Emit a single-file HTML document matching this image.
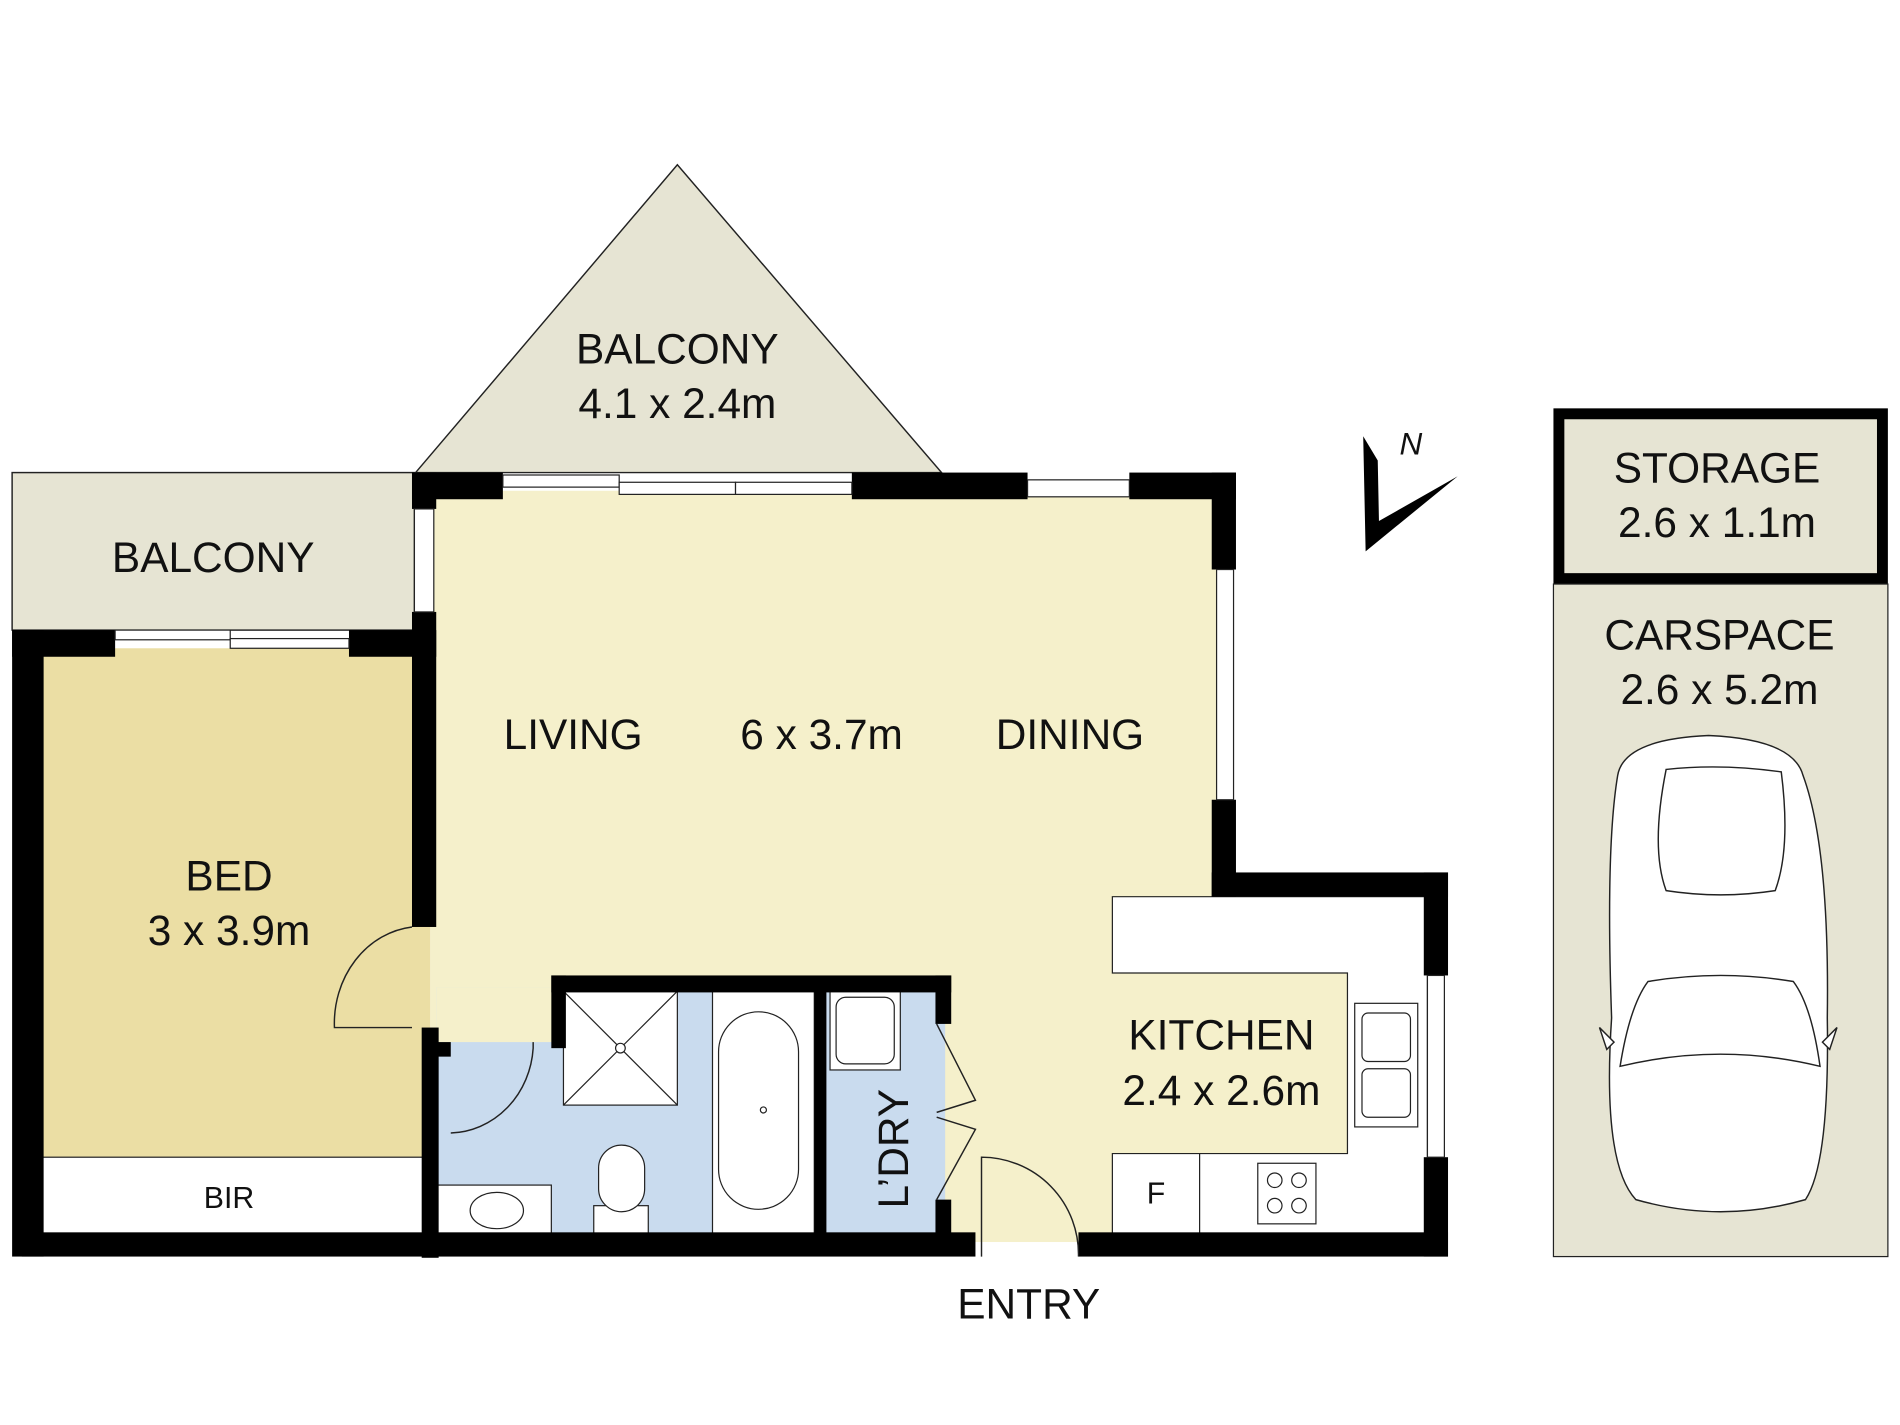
<!DOCTYPE html>
<html><head><meta charset="utf-8"><style>
html,body{margin:0;padding:0;background:#fff;}
svg{display:block;}
text{font-family:"Liberation Sans",sans-serif;fill:#111;}
</style></head><body>
<svg width="1900" height="1425" viewBox="0 0 1568 1176" xmlns="http://www.w3.org/2000/svg">
<rect width="1568" height="1176" fill="#fff"/>
<!-- balconies -->
<polygon points="343,390 559,136 777,390" fill="#e6e4d3" stroke="#222" stroke-width="1.2"/>
<rect x="10" y="390" width="332" height="130" fill="#e6e4d3" stroke="#222" stroke-width="1.2"/>
<!-- floors -->
<rect x="355" y="405" width="650" height="455" fill="#f5f0cb"/>
<rect x="760" y="730" width="420" height="295" fill="#f5f0cb"/>
<rect x="30" y="535" width="325" height="490" fill="#ebdea4"/>
<rect x="30" y="955" width="320" height="65" fill="#fff" stroke="#222" stroke-width="1"/>
<rect x="360" y="815" width="420" height="205" fill="#c9dbee"/>
<rect x="360" y="815" width="100" height="45" fill="#f5f0cb"/>
<!-- kitchen counters -->
<path d="M918,740 H1178 V1020 H918 V952 H1112 V803 H918 Z" fill="#fff" stroke="#222" stroke-width="1"/>
<rect x="1118" y="828" width="52" height="102" fill="#fff" stroke="#222"/>
<rect x="1124" y="836" width="40" height="40" rx="5" fill="none" stroke="#222"/>
<rect x="1124" y="882" width="40" height="40" rx="5" fill="none" stroke="#222"/>
<line x1="990" y1="952" x2="990" y2="1020" stroke="#222"/>
<rect x="1038" y="960" width="48" height="50" fill="none" stroke="#222"/>
<circle cx="1052" cy="974" r="6" fill="none" stroke="#222"/><circle cx="1072" cy="974" r="6" fill="none" stroke="#222"/>
<circle cx="1052" cy="995" r="6" fill="none" stroke="#222"/><circle cx="1072" cy="995" r="6" fill="none" stroke="#222"/>
<!-- bath fixtures -->
<rect x="465" y="818" width="94" height="94" fill="#fff" stroke="#222"/>
<line x1="465" y1="818" x2="559" y2="912" stroke="#222"/><line x1="559" y1="818" x2="465" y2="912" stroke="#222"/>
<circle cx="512" cy="865" r="4" fill="#fff" stroke="#222"/>
<rect x="588" y="818" width="84" height="200" fill="#fff" stroke="#222"/>
<rect x="593" y="835" width="66" height="163" rx="33" fill="#fff" stroke="#222"/>
<circle cx="630" cy="916" r="2.5" fill="none" stroke="#222"/>
<rect x="360" y="978" width="95" height="42" fill="#fff" stroke="#222"/>
<ellipse cx="410" cy="999" rx="22" ry="15" fill="none" stroke="#222"/>
<rect x="490" y="995" width="45" height="25" fill="#fff" stroke="#222"/>
<rect x="494" y="945" width="38" height="55" rx="19" fill="#fff" stroke="#222"/>
<rect x="685" y="818" width="58" height="65" fill="#fff" stroke="#222"/>
<rect x="690" y="823" width="48" height="55" rx="8" fill="none" stroke="#222"/>
<!-- walls -->
<g fill="#000">
<rect x="340" y="390" width="75" height="22"/>
<rect x="703" y="390" width="145" height="22"/>
<rect x="932" y="390" width="88" height="22"/>
<rect x="1000" y="390" width="20" height="80"/>
<rect x="1000" y="660" width="20" height="80"/>
<rect x="1000" y="720" width="195" height="20"/>
<rect x="1175" y="720" width="20" height="85"/>
<rect x="1175" y="955" width="20" height="82"/>
<rect x="340" y="390" width="20" height="30"/>
<rect x="340" y="505" width="20" height="260"/>
<rect x="348" y="848" width="14" height="190"/>
<rect x="10" y="520" width="85" height="22"/>
<rect x="288" y="520" width="72" height="22"/>
<rect x="10" y="520" width="26" height="517"/>
<rect x="18" y="1017" width="787" height="20"/>
<rect x="890" y="1017" width="305" height="20"/>
<rect x="455" y="805" width="330" height="14"/>
<rect x="455" y="805" width="12" height="60"/>
<rect x="772" y="805" width="13" height="40"/>
<rect x="772" y="990" width="13" height="30"/>
<rect x="672" y="818" width="10" height="200"/>
<rect x="360" y="860" width="12" height="12"/>
</g>
<!-- windows -->
<g fill="#fff" stroke="#222" stroke-width="1">
<rect x="415" y="392" width="96" height="10"/><rect x="511" y="398" width="96" height="10"/><rect x="607" y="398" width="96" height="10"/>
<rect x="848" y="396" width="84" height="14"/>
<rect x="1004" y="470" width="14" height="190"/>
<rect x="342" y="420" width="16" height="85"/>
<rect x="95" y="520" width="95" height="8"/><rect x="190" y="527" width="98" height="8"/>
<rect x="1178" y="805" width="14" height="150"/>
</g>
<!-- doors -->
<g fill="none" stroke="#222" stroke-width="1.2">
<path d="M340,848 H276 A72,80 0 0 1 340,765"/>
<path d="M372,935 A70,75 0 0 0 440,865 L440,860"/>
<path d="M810,1037 V955 A80,80 0 0 1 890,1037"/>
<path d="M773,845 L805,908 L773,918"/>
<path d="M773,990 L805,932 L773,922"/>
</g>
<!-- north arrow -->
<path d="M1127,455 L1125,360 L1137,380 L1138,430 L1203,393 Z" fill="#000"/>
<text x="1155" y="375" font-size="26" font-style="italic">N</text>
<!-- storage & carspace -->
<rect x="1282" y="337" width="276" height="145" fill="#000"/>
<rect x="1291" y="346" width="258" height="127" fill="#e6e4d3"/>
<rect x="1282" y="482" width="276" height="555" fill="#e6e4d3" stroke="#222"/>
<!-- car -->
<g fill="#fff" stroke="#222" stroke-width="1.2">
<path d="M1335,640 Q1340,610 1410,607 Q1480,610 1488,640 Q1510,700 1508,840 Q1510,960 1490,990 Q1420,1010 1350,990 Q1322,960 1330,840 Q1325,700 1335,640 Z"/>
<path d="M1375,635 Q1420,630 1470,637 Q1478,700 1465,735 Q1420,742 1375,735 Q1362,700 1375,635 Z"/>
<path d="M1337,880 Q1345,830 1360,810 Q1420,800 1480,810 Q1495,830 1502,880 Q1420,860 1337,880 Z" transform="translate(0,0)"/>
<path d="M1320,848 L1332,860 L1326,866 Z"/>
<path d="M1516,848 L1504,860 L1510,866 Z"/>
</g>
<!-- labels -->
<g font-size="35" text-anchor="middle">
<text x="559" y="300">BALCONY</text>
<text x="559" y="345">4.1 x 2.4m</text>
<text x="176" y="472">BALCONY</text>
<text x="473" y="618">LIVING</text>
<text x="678" y="618">6 x 3.7m</text>
<text x="883" y="618">DINING</text>
<text x="189" y="735">BED</text>
<text x="189" y="780">3 x 3.9m</text>
<text x="1008" y="866">KITCHEN</text>
<text x="1008" y="912">2.4 x 2.6m</text>
<text x="849" y="1088">ENTRY</text>
<text x="1417" y="398">STORAGE</text>
<text x="1417" y="443">2.6 x 1.1m</text>
<text x="1419" y="536">CARSPACE</text>
<text x="1419" y="581">2.6 x 5.2m</text>
<text x="740" y="948" transform="rotate(-90 740 948)" dominant-baseline="middle">L’DRY</text>
</g>
<text x="189" y="997" font-size="25" text-anchor="middle">BIR</text>
<text x="954" y="993" font-size="25" text-anchor="middle">F</text>
</svg>
</body></html>
